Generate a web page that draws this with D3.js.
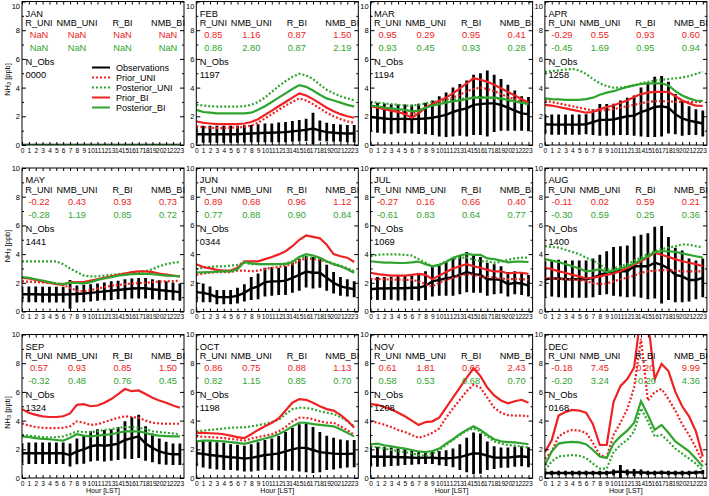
<!DOCTYPE html>
<html><head><meta charset="utf-8">
<script src="https://cdn.jsdelivr.net/npm/d3@7"></script>
<style>body{margin:0;background:#fff}svg{display:block}text{font-family:"Liberation Sans",Arial,Helvetica,sans-serif}</style>
</head><body><svg id="c" width="709" height="496"></svg>
<script>
const months = ["JAN","FEB","MAR","APR","MAY","JUN","JUL","AUG","SEP","OCT","NOV","DEC"];
const hours = [0,1,2,3,4,5,6,7,8,9,10,11,12,13,14,15,16,17,18,19,20,21,22,23];
const yTicks = [0,2,4,6,8,10];
const yMinorTicks = [1,3,5,7,9];
const statNames = ["R_UNI","NMB_UNI","R_BI","NMB_BI"];
const legendLabels = ["Observations","Prior_UNI","Posterior_UNI","Prior_BI","Posterior_BI"];
const nObs = ["0000","1197","1194","1258","1441","0344","1069","1400","1324","1198","1208","0168"];
const statsPrior = [
 ["NaN","NaN","NaN","NaN"],["0.85","1.16","0.87","1.50"],["0.95","0.29","0.95","0.41"],["-0.29","0.55","0.93","0.60"],
 ["-0.22","0.43","0.93","0.73"],["0.89","0.68","0.96","1.12"],["-0.27","0.16","0.66","0.40"],["-0.11","0.02","0.59","0.21"],
 ["0.57","0.93","0.85","1.50"],["0.86","0.75","0.88","1.13"],["0.61","1.81","0.66","2.43"],["-0.18","7.45","0.20","9.99"]];
const statsPosterior = [
 ["NaN","NaN","NaN","NaN"],["0.86","2.80","0.87","2.19"],["0.93","0.45","0.93","0.28"],["-0.45","1.69","0.95","0.94"],
 ["-0.28","1.19","0.85","0.72"],["0.77","0.88","0.90","0.84"],["-0.61","0.83","0.64","0.77"],["-0.30","0.59","0.25","0.36"],
 ["-0.32","0.48","0.76","0.45"],["0.82","1.15","0.85","0.70"],["0.58","0.53","0.68","0.70"],["-0.20","3.24","-0.20","4.36"]];

const observations = [
 [0,0,0,0,0,0,0,0,0,0,0,0,0,0,0,0,0,0,0,0,0,0,0,0],
 [0.75,0.75,0.75,0.75,0.75,0.75,0.75,0.78,0.8,0.82,0.85,0.85,0.88,0.9,0.95,1.0,1.05,1.15,1.0,0.9,0.85,0.82,0.8,0.8],
 [1.95,1.9,1.85,1.8,1.82,1.82,1.8,1.82,1.85,1.9,2.0,2.1,2.3,2.45,2.55,2.8,2.85,2.9,2.9,2.8,2.6,2.4,2.2,2.15],
 [1.45,1.42,1.42,1.42,1.42,1.42,1.45,1.6,1.75,1.75,1.78,1.9,2.0,2.05,2.3,2.45,2.65,2.7,2.6,2.15,1.85,1.7,1.6,1.5],
 [1.2,1.2,1.2,1.18,1.18,1.18,1.18,1.2,1.22,1.25,1.3,1.35,1.4,1.45,1.5,1.55,1.6,1.62,1.62,1.55,1.5,1.45,1.4,1.35],
 [1.35,1.3,1.2,1.0,1.0,1.0,1.1,1.3,1.6,1.75,2.05,2.1,2.1,2.15,2.35,2.55,2.78,2.7,2.7,2.35,2.0,1.75,1.65,1.55],
 [1.55,1.6,1.6,1.62,1.62,1.62,1.65,1.65,1.8,2.1,2.2,2.3,2.4,2.55,2.75,2.6,2.55,2.25,2.25,2.2,1.9,2.0,1.95,1.8],
 [2.25,2.3,2.3,2.25,2.25,2.25,2.25,2.35,2.55,2.7,2.8,2.8,2.8,3.15,3.15,3.15,3.4,3.25,3.0,2.55,2.45,2.2,2.2,2.35],
 [1.72,1.72,1.72,1.72,1.72,1.72,1.72,1.6,1.85,2.0,2.2,2.3,2.25,2.3,2.4,2.65,2.78,2.9,2.4,2.1,1.85,1.72,1.65,1.65],
 [1.72,1.68,1.6,1.55,1.5,1.45,1.42,1.35,1.4,1.5,1.6,1.65,1.72,1.85,2.0,2.1,2.1,1.95,1.8,1.75,1.7,1.68,1.68,1.7],
 [1.5,1.48,1.48,1.48,1.45,1.45,1.42,1.4,1.42,1.42,1.38,1.38,1.4,1.45,1.6,1.72,1.7,1.55,1.42,1.42,1.42,1.48,1.52,1.45],
 [0.35,0.35,0.35,0.35,0.35,0.35,0.35,0.35,0.35,0.35,0.4,0.45,0.4,0.38,0.4,0.35,0.35,0.38,0.35,0.35,0.35,0.35,0.38,0.4]];
const obsSpread = [
 [0,0,0,0,0,0,0,0,0,0,0,0,0,0,0,0,0,0,0,0,0,0,0,0],
 [0.6,0.6,0.6,0.6,0.6,0.6,0.6,0.6,0.6,0.62,0.65,0.65,0.68,0.7,0.72,0.75,0.78,1.1,0.7,0.65,0.62,0.6,0.6,0.6],
 [1.0,1.05,1.05,1.05,1.0,1.0,1.0,1.05,1.1,1.2,1.4,1.55,1.7,1.8,1.95,2.1,2.15,2.3,2.0,1.8,1.6,1.4,1.2,1.2],
 [0.7,0.7,0.7,0.7,0.7,0.7,0.7,0.9,1.1,1.1,1.1,1.2,1.3,1.4,1.7,1.9,2.1,2.1,1.8,1.4,1.2,1.0,0.9,0.9],
 [0.55,0.55,0.55,0.55,0.55,0.55,0.55,1.0,0.6,0.6,0.6,0.6,0.62,0.65,0.65,0.7,0.7,0.72,0.72,0.7,0.68,0.65,0.62,0.6],
 [0.7,0.65,0.55,0.5,0.5,0.5,0.55,0.6,0.8,0.9,1.0,1.0,0.95,1.0,1.05,1.1,1.1,1.1,1.05,0.9,0.75,0.65,0.6,0.55],
 [0.75,0.8,0.8,0.8,0.85,0.85,0.85,0.9,1.0,1.05,1.1,1.2,1.3,1.35,1.4,1.3,1.25,1.15,1.05,0.95,0.85,0.8,0.8,0.75],
 [1.25,1.25,1.3,1.3,1.3,1.3,1.3,1.35,1.4,1.5,1.7,1.75,1.8,2.1,2.2,2.3,2.5,2.7,2.2,1.9,1.8,1.5,1.35,1.35],
 [0.7,0.75,0.75,0.75,0.75,0.75,0.75,0.8,0.9,1.0,1.05,1.1,1.1,1.1,1.15,1.3,1.45,1.5,1.2,1.0,0.9,0.8,0.75,0.75],
 [0.9,0.95,0.95,0.95,0.95,0.9,0.9,0.9,0.95,1.0,1.05,1.1,1.2,1.35,1.5,1.65,1.7,1.6,1.4,1.2,1.1,1.0,0.95,0.95],
 [0.7,0.7,0.7,0.65,0.6,0.55,0.5,0.45,0.45,0.45,0.5,0.55,0.65,0.9,1.2,1.45,1.4,1.0,0.8,0.7,0.7,0.7,0.7,0.7],
 [0.15,0.15,0.15,0.15,0.15,0.15,0.15,0.15,0.15,0.15,0.2,0.45,0.2,0.25,0.2,0.15,0.15,0.15,0.15,0.15,0.15,0.15,0.15,0.15]];
const priorUNI = [
 [0,0,0,0,0,0,0,0,0,0,0,0,0,0,0,0,0,0,0,0,0,0,0,0],
 [1.3,1.25,1.2,1.18,1.18,1.2,1.22,1.25,1.35,1.55,1.85,2.15,2.45,2.75,3.0,3.25,3.1,2.85,2.55,2.25,2.0,1.8,1.65,1.55],
 [2.75,2.65,2.55,2.45,2.35,2.25,2.15,2.35,2.65,2.85,3.0,3.15,3.3,3.5,3.75,3.9,4.0,3.9,3.75,3.55,3.35,3.2,3.05,2.9],
 [3.1,3.0,2.9,2.8,2.7,2.6,2.5,2.4,2.4,2.45,2.5,2.6,2.7,2.8,2.9,3.0,3.05,3.05,3.05,3.0,3.0,3.0,3.0,3.0],
 [2.1,2.08,2.05,2.02,2.0,1.98,1.85,1.65,1.45,1.4,1.5,1.6,1.7,1.8,1.85,1.9,1.95,1.98,2.0,2.05,2.08,2.1,2.12,2.15],
 [2.55,2.65,2.7,2.75,2.75,2.75,2.85,2.85,2.8,2.85,2.95,3.05,3.1,3.2,3.3,3.55,3.7,3.65,3.6,3.45,3.3,3.15,3.0,2.8],
 [2.25,2.25,2.25,2.22,2.22,2.2,2.2,2.1,1.9,1.75,2.0,2.2,2.35,2.5,2.6,2.55,2.45,2.4,2.35,2.3,2.25,2.25,2.25,2.22],
 [2.35,2.3,2.28,2.25,2.22,2.2,2.1,2.0,1.9,1.95,2.1,2.25,2.35,2.5,2.7,2.8,2.85,2.88,2.88,2.85,2.8,2.8,2.8,2.8],
 [3.8,3.65,3.55,3.5,3.48,3.48,3.5,3.6,3.95,3.85,3.7,3.75,3.9,4.05,4.2,4.3,4.25,4.2,4.0,3.85,3.8,3.78,3.78,3.78],
 [2.9,2.88,2.85,2.82,2.78,2.72,2.68,2.6,2.75,2.85,2.95,3.05,3.25,3.55,3.95,4.2,4.2,4.1,3.95,3.85,3.85,3.6,3.35,3.0],
 [3.95,3.85,3.72,3.55,3.35,3.2,3.0,2.8,2.95,3.15,3.45,4.2,4.85,5.45,6.05,6.5,6.3,5.6,4.9,4.55,4.38,4.35,4.35,4.3],
 [1.35,1.85,2.9,3.2,3.35,3.3,3.15,2.45,1.6,1.45,3.0,3.85,4.8,6.3,9.7,5.4,6.0,6.2,5.5,4.7,3.75,3.0,2.1,1.1]];
const posteriorUNI = [
 [0,0,0,0,0,0,0,0,0,0,0,0,0,0,0,0,0,0,0,0,0,0,0,0],
 [2.8,2.75,2.7,2.68,2.68,2.68,2.68,2.7,2.8,3.0,3.3,3.7,4.1,4.45,4.75,4.97,4.85,4.6,4.2,3.85,3.6,3.4,3.25,3.12],
 [3.0,2.95,2.9,2.85,2.8,2.75,2.75,2.8,2.9,3.0,3.05,3.1,3.15,3.2,3.25,3.3,3.35,3.3,3.25,3.2,3.1,3.0,2.95,2.9],
 [5.1,5.15,5.2,5.25,5.3,5.2,4.95,4.6,4.3,4.1,4.0,4.0,4.05,4.15,4.3,4.4,4.5,4.55,4.6,4.65,4.7,4.8,4.95,5.1],
 [3.5,3.5,3.5,3.5,3.5,3.5,3.3,3.0,2.75,2.5,2.45,2.45,2.5,2.55,2.6,2.65,2.7,2.75,2.8,2.95,3.15,3.3,3.4,3.45],
 [2.95,3.05,3.1,3.15,3.15,3.2,3.25,3.4,3.3,3.3,3.3,3.3,3.3,3.35,3.5,3.75,3.8,3.75,3.7,3.5,3.35,3.2,3.0,2.8],
 [3.85,3.95,3.98,3.98,3.98,3.95,3.9,3.65,3.4,3.15,3.25,3.5,3.65,3.75,3.75,3.62,3.5,3.5,3.4,3.45,3.6,3.7,3.75,3.75],
 [4.55,4.5,4.45,4.3,4.15,4.0,3.75,3.55,3.3,2.9,3.0,3.15,3.3,3.55,3.75,4.0,4.2,4.35,4.45,4.55,4.68,4.65,4.55,4.48],
 [3.0,2.95,2.9,2.85,2.82,2.85,2.9,3.05,3.25,3.2,3.2,3.25,3.35,3.4,3.5,3.55,3.55,3.5,3.4,3.25,3.2,3.15,3.1,3.05],
 [3.25,3.3,3.35,3.4,3.45,3.5,3.52,3.53,3.6,3.68,3.78,3.9,4.05,4.45,4.8,4.9,4.88,4.8,4.65,4.55,4.45,4.25,3.95,3.6],
 [2.2,2.15,2.05,1.95,1.88,1.8,1.72,1.6,1.55,1.7,1.95,2.3,2.65,3.0,3.3,3.45,3.25,2.9,2.55,2.4,2.3,2.25,2.2,2.12],
 [0.55,1.15,1.5,1.55,1.6,1.55,1.4,1.0,0.65,0.65,1.8,2.3,2.65,3.25,4.85,3.95,2.9,3.0,2.55,2.05,1.7,1.35,1.0,0.55]];
const priorBI = [
 [0,0,0,0,0,0,0,0,0,0,0,0,0,0,0,0,0,0,0,0,0,0,0,0],
 [1.65,1.55,1.5,1.45,1.45,1.45,1.45,1.5,1.6,1.8,2.1,2.4,2.7,3.0,3.3,3.6,3.45,3.2,2.9,2.6,2.35,2.15,2.0,1.9],
 [2.7,2.6,2.5,2.4,2.3,2.15,1.9,2.2,2.6,2.85,3.1,3.3,3.6,3.95,4.3,4.65,4.55,4.4,4.2,3.95,3.7,3.45,3.2,2.95],
 [2.8,2.75,2.65,2.55,2.45,2.35,2.25,2.3,2.5,2.65,2.75,2.95,3.1,3.35,3.55,3.65,3.7,3.7,3.7,3.4,3.1,2.9,2.75,2.72],
 [2.35,2.3,2.2,2.1,2.0,1.9,1.85,2.05,2.05,2.05,2.15,2.25,2.35,2.45,2.55,2.65,2.75,2.8,2.8,2.75,2.65,2.57,2.5,2.45],
 [3.3,3.1,3.0,2.9,2.85,2.85,3.05,3.5,3.5,3.5,3.65,3.8,3.98,4.2,4.55,5.0,5.3,5.2,5.1,4.65,4.0,3.85,3.75,3.45],
 [2.7,2.6,2.55,2.5,2.5,2.5,2.55,2.62,2.55,2.25,2.5,2.75,3.0,3.15,3.3,3.15,3.05,2.9,2.8,2.8,2.65,2.7,2.7,2.62],
 [3.05,2.95,2.8,2.7,2.55,2.45,2.3,2.35,2.45,2.55,2.65,2.8,3.05,3.25,3.5,3.8,4.1,3.95,3.8,3.65,3.5,3.4,3.3,3.15],
 [4.8,4.55,4.4,4.3,4.25,4.25,4.3,4.5,5.1,5.15,5.0,5.05,5.25,5.5,5.85,6.2,6.05,6.1,5.85,5.6,5.4,5.25,5.05,4.9],
 [3.15,3.15,3.12,3.1,3.05,2.95,2.85,2.78,3.05,3.35,3.6,3.85,4.15,4.7,5.25,5.5,5.45,5.25,5.0,4.8,4.7,4.4,4.0,3.5],
 [5.15,5.1,4.95,4.8,4.55,4.3,4.0,3.7,3.9,3.95,4.2,4.9,5.6,6.3,7.0,7.65,7.1,6.3,5.75,5.4,5.2,5.35,5.45,5.25],
 [1.8,2.65,4.35,4.6,4.75,4.7,4.55,3.75,2.3,2.3,5.3,6.4,6.9,7.7,11.5,11.0,6.9,7.95,7.45,6.0,5.0,4.3,3.25,1.5]];
const posteriorBI = [
 [0,0,0,0,0,0,0,0,0,0,0,0,0,0,0,0,0,0,0,0,0,0,0,0],
 [2.45,2.3,2.25,2.2,2.2,2.2,2.2,2.2,2.25,2.45,2.7,3.0,3.3,3.6,3.9,4.17,4.05,3.8,3.5,3.25,3.1,2.95,2.8,2.68],
 [2.75,2.7,2.6,2.55,2.5,2.45,2.35,2.4,2.6,2.75,2.85,2.95,3.05,3.1,3.2,3.3,3.3,3.3,3.3,3.25,3.15,3.05,2.95,2.85],
 [3.25,3.2,3.18,3.15,3.15,3.15,3.2,3.3,3.5,3.65,3.75,3.9,4.05,4.15,4.25,4.3,4.3,4.3,4.15,3.75,3.45,3.25,3.1,3.07],
 [2.4,2.35,2.25,2.15,2.05,1.95,1.92,2.0,2.0,1.95,2.05,2.2,2.3,2.4,2.5,2.55,2.6,2.62,2.62,2.6,2.55,2.5,2.48,2.45],
 [2.72,2.72,2.75,2.78,2.8,2.8,2.95,3.45,3.35,3.3,3.3,3.3,3.3,3.3,3.45,3.8,4.0,3.9,3.75,3.5,3.3,3.15,2.95,2.7],
 [3.5,3.45,3.4,3.4,3.38,3.38,3.42,3.48,3.3,3.15,3.25,3.45,3.75,3.9,4.02,3.95,3.95,3.7,3.65,3.55,3.42,3.48,3.48,3.45],
 [3.65,3.55,3.45,3.3,3.15,3.0,2.8,2.85,2.95,2.75,2.85,3.0,3.15,3.35,3.6,3.85,4.15,4.2,4.2,4.15,4.05,3.95,3.85,3.75],
 [2.9,2.85,2.78,2.72,2.7,2.65,2.6,2.8,3.05,2.95,2.9,2.95,3.0,3.05,3.15,3.25,3.25,3.25,3.15,3.0,2.95,2.92,2.9,2.9],
 [2.55,2.6,2.6,2.58,2.55,2.5,2.45,2.38,2.5,2.62,2.75,2.88,3.05,3.3,3.6,3.85,3.85,3.75,3.7,3.65,3.6,3.4,3.15,2.9],
 [2.35,2.4,2.28,2.2,2.12,2.05,1.95,1.85,1.8,1.88,2.05,2.4,2.7,3.05,3.35,3.6,3.35,3.0,2.7,2.55,2.5,2.48,2.42,2.35],
 [0.9,1.85,2.4,2.48,2.52,2.48,2.35,1.95,1.5,1.4,2.4,2.9,3.3,3.85,5.35,4.4,3.35,3.7,3.15,2.55,2.2,1.85,1.35,0.8]];

const RED = "#ee2222", GREEN = "#2fa52f", BLACK = "#000";
const seriesStyle = [
  {data: priorUNI, color: RED, dash: "2,2"},
  {data: posteriorUNI, color: GREEN, dash: "2,2"},
  {data: priorBI, color: RED, dash: null},
  {data: posteriorBI, color: GREEN, dash: null}
];
const legendStyle = [
  {color: BLACK, dash: null},{color: RED, dash: "2,2"},{color: GREEN, dash: "2,2"},{color: RED, dash: null},{color: GREEN, dash: null}];

const svg = d3.select("#c");
const panelW = 162, panelH = 143.5;
const colX = c => 22 + c * 174.3;
const rowY = r => 1.5 + r * 166.5;
const statCenters = [17, 55, 100.5, 146];
const FONT = "'Liberation Sans', Arial, Helvetica, sans-serif";

months.forEach((m, i) => {
  const r = Math.floor(i / 4), c = i % 4;
  const x0 = colX(c), y0 = rowY(r);
  const x = d3.scaleLinear().domain([0, 23.6]).range([x0, x0 + panelW]);
  const y = d3.scaleLinear().domain([0, 10]).range([y0 + panelH, y0]);
  const g = svg.append("g");
  const cid = "clip" + i;
  svg.append("clipPath").attr("id", cid).append("rect")
    .attr("x", x0).attr("y", y0).attr("width", panelW).attr("height", panelH);
  const plot = g.append("g").attr("clip-path", `url(#${cid})`);

  // error bars
  plot.selectAll("line.err").data(hours.filter((h, j) => obsSpread[i][j] > 0)).join("line")
    .attr("x1", h => x(h)).attr("x2", h => x(h))
    .attr("y1", h => y(observations[i][h] - obsSpread[i][h]))
    .attr("y2", h => y(observations[i][h] + obsSpread[i][h]))
    .attr("stroke", BLACK).attr("stroke-width", 2.8);

  const line = d3.line().x((d, j) => x(hours[j])).y(d => y(d));
  plot.append("path").datum(observations[i]).attr("d", line)
    .attr("fill", "none").attr("stroke", BLACK).attr("stroke-width", 2.4);
  seriesStyle.forEach(s => {
    plot.append("path").datum(s.data[i]).attr("d", line)
      .attr("fill", "none").attr("stroke", s.color).attr("stroke-width", 2.2)
      .attr("stroke-dasharray", s.dash);
  });

  // axes
  const styleAxis = a => { a.select(".domain").remove(); a.attr("font-family", FONT); a.selectAll("line").attr("stroke", BLACK); };
  const leftAx = g.append("g").attr("transform", `translate(${x0},0)`)
    .call(d3.axisLeft(y).tickValues(yTicks).tickSize(-4).tickPadding(2).tickFormat(d3.format("d")))
    .call(styleAxis).attr("font-size", 7.5);
  if (r === 0) leftAx.selectAll(".tick text").filter(d => d === 10).attr("dy", "0.95em");
  g.append("g").attr("transform", `translate(${x0},0)`)
    .call(d3.axisLeft(y).tickValues(yMinorTicks).tickSize(-2).tickFormat("")).call(styleAxis);
  g.append("g").attr("transform", `translate(${x0 + panelW},0)`)
    .call(d3.axisRight(y).tickValues(yTicks).tickSize(-4).tickFormat("")).call(styleAxis);
  g.append("g").attr("transform", `translate(${x0 + panelW},0)`)
    .call(d3.axisRight(y).tickValues(yMinorTicks).tickSize(-2).tickFormat("")).call(styleAxis);
  g.append("g").attr("transform", `translate(0,${y0 + panelH})`)
    .call(d3.axisBottom(x).tickValues(hours).tickSize(-3).tickPadding(3).tickFormat(d => d))
    .call(styleAxis).attr("font-size", 6.6);
  g.append("g").attr("transform", `translate(0,${y0})`)
    .call(d3.axisTop(x).tickValues(hours).tickSize(-3).tickFormat("")).call(styleAxis);
  g.append("rect").attr("x", x0).attr("y", y0).attr("width", panelW).attr("height", panelH)
    .attr("fill", "none").attr("stroke", BLACK).attr("stroke-width", 1);

  // texts
  const T = (tx, ty, s, col, anchor, fs) => g.append("text").attr("x", tx).attr("y", ty).text(s)
    .attr("font-size", fs || 9.3).attr("fill", col || BLACK).attr("text-anchor", anchor || "start");
  T(x0 + 3.5, y0 + 15, m);
  statNames.forEach((s, k) => T(x0 + statCenters[k], y0 + 24.5, s, BLACK, "middle", 9.1));
  statsPrior[i].forEach((s, k) => T(x0 + statCenters[k], y0 + 36.8, s, RED, "middle"));
  statsPosterior[i].forEach((s, k) => T(x0 + statCenters[k], y0 + 49.6, s, GREEN, "middle"));
  T(x0 + 3.5, y0 + 63.5, "N_Obs");
  T(x0 + 3.5, y0 + 76.5, nObs[i]);

  if (c === 0) {
    const lab = svg.append("text").attr("transform", `translate(9.5,${y0 + 78}) rotate(-90)`)
      .attr("text-anchor", "middle").attr("font-size", 7.5);
    lab.append("tspan").text("NH");
    lab.append("tspan").text("3").attr("font-size", 5.5).attr("dy", 1.8);
    lab.append("tspan").text(" [ppb]").attr("dy", -1.8);
  }
  if (r === 2) {
    svg.append("text").attr("x", x0 + panelW / 2).attr("y", 493).attr("text-anchor", "middle")
      .attr("font-size", 7).text("Hour [LST]");
  }
  if (i === 0) {
    legendLabels.forEach((lbl, k) => {
      const ly = y0 + 66 + k * 10;
      g.append("line").attr("x1", x0 + 70).attr("x2", x0 + 88).attr("y1", ly).attr("y2", ly)
        .attr("stroke", legendStyle[k].color).attr("stroke-width", 2).attr("stroke-dasharray", legendStyle[k].dash);
      g.append("text").attr("x", x0 + 94).attr("y", ly + 3.3).attr("font-size", 9).text(lbl);
    });
  }
});
</script></body></html>
